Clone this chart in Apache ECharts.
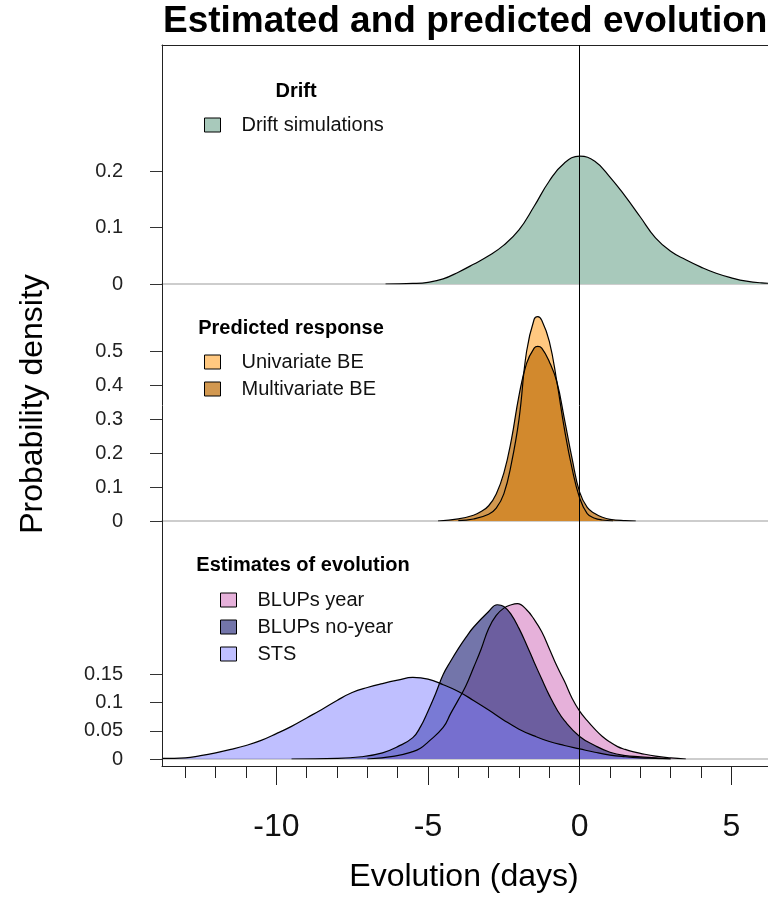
<!DOCTYPE html>
<html>
<head>
<meta charset="utf-8">
<title>Estimated and predicted evolution</title>
<script src="https://cdn.jsdelivr.net/npm/echarts@6/dist/echarts.min.js"></script>
<style>
  html, body { margin: 0; padding: 0; background: #fff; }
  #chart { width: 768px; height: 920px; }
</style>
</head>
<body>
<div id="chart"></div>
<script>
// density curves: [evolution (days), probability density]
var driftSim = [
  [-6.4, 0], [-5.5, 0.001], [-5, 0.003], [-4.5, 0.009], [-4, 0.021], [-3.5, 0.035],
  [-3, 0.05], [-2.5, 0.069], [-2, 0.096], [-1.5, 0.138], [-1, 0.183], [-0.5, 0.215],
  [0, 0.227], [0.5, 0.218], [1, 0.19], [1.5, 0.156], [2, 0.119], [2.5, 0.082],
  [3, 0.058], [3.5, 0.043], [4, 0.03], [4.5, 0.019], [5, 0.011], [5.5, 0.005],
  [6, 0.002], [6.5, 0.001]
]
var univariateBE = [
  [-4, 0.001], [-3.5, 0.006], [-3, 0.02], [-2.75, 0.038], [-2.5, 0.08], [-2.25, 0.17],
  [-2, 0.3], [-1.75, 0.5], [-1.5, 0.595], [-1.38, 0.603], [-1.25, 0.592], [-1, 0.53],
  [-0.75, 0.41], [-0.5, 0.27], [-0.25, 0.155], [0, 0.068], [0.25, 0.022], [0.5, 0.008],
  [0.75, 0.003], [1.1, 0]
]
var multivariateBE = [
  [-4.67, 0], [-4, 0.006], [-3.5, 0.017], [-3.25, 0.028], [-3, 0.045], [-2.75, 0.08],
  [-2.5, 0.141], [-2.25, 0.24], [-2, 0.37], [-1.75, 0.465], [-1.5, 0.51], [-1.38, 0.515],
  [-1.25, 0.51], [-1, 0.47], [-0.75, 0.41], [-0.5, 0.3], [-0.25, 0.185], [0, 0.085],
  [0.25, 0.04], [0.5, 0.022], [0.75, 0.011], [1, 0.005], [1.5, 0.001], [1.85, 0]
]
var blupsYear = [
  [-7, 0], [-6.1, 0.005], [-5.5, 0.013], [-5.25, 0.019], [-5, 0.03], [-4.5, 0.056],
  [-4.25, 0.081], [-4, 0.105], [-3.75, 0.13], [-3.5, 0.162], [-3.25, 0.195], [-3, 0.232],
  [-2.75, 0.255], [-2.5, 0.268], [-2.25, 0.274], [-2.05, 0.276], [-1.75, 0.265],
  [-1.5, 0.248], [-1.25, 0.226], [-1, 0.196], [-0.75, 0.165], [-0.5, 0.138],
  [-0.25, 0.108], [0, 0.085], [0.25, 0.068], [0.5, 0.053], [0.75, 0.04], [1, 0.03],
  [1.25, 0.022], [1.5, 0.017], [1.75, 0.013], [2, 0.01], [2.5, 0.005], [3, 0.002], [3.5, 0]
]
var blupsNoYear = [
  [-9.5, 0], [-8, 0.001], [-7.2, 0.004], [-6.5, 0.011], [-6, 0.022], [-5.5, 0.038],
  [-5.25, 0.057], [-5, 0.085], [-4.75, 0.116], [-4.5, 0.15], [-4.25, 0.174], [-4, 0.196],
  [-3.75, 0.216], [-3.5, 0.234], [-3, 0.262], [-2.72, 0.274], [-2.5, 0.271], [-2.25, 0.256],
  [-2, 0.232], [-1.75, 0.203], [-1.5, 0.172], [-1.25, 0.142], [-1, 0.113], [-0.75, 0.088],
  [-0.5, 0.068], [0, 0.04], [0.5, 0.024], [1, 0.012], [1.5, 0.006], [2, 0.004],
  [2.5, 0.002], [3, 0]
]
var sts = [
  [-13.77, 0.001], [-13, 0.002], [-12.5, 0.006], [-12, 0.011], [-11.5, 0.017], [-11, 0.024],
  [-10.5, 0.033], [-10, 0.045], [-9.5, 0.058], [-9, 0.073], [-8.5, 0.088], [-8, 0.104],
  [-7.5, 0.118], [-7, 0.127], [-6.5, 0.134], [-6, 0.14], [-5.5, 0.145], [-5, 0.142],
  [-4.5, 0.132], [-4, 0.12], [-3.5, 0.104], [-3, 0.087], [-2.5, 0.069], [-2, 0.053],
  [-1.5, 0.041], [-1, 0.031], [-0.5, 0.024], [0, 0.018], [0.5, 0.012], [1, 0.007],
  [1.5, 0.004], [2, 0.002], [2.5, 0.001], [3, 0]
]

var xMajorTicks = [-10, -5, 0, 5]
var xMinorTicks = [-13, -12, -11, -10, -9, -8, -7, -6, -5, -4, -3, -2, -1, 0, 1, 2, 3, 4, 5]
var yTicksDrift = [0, 0.1, 0.2]
var yTicksResponse = [0, 0.1, 0.2, 0.3, 0.4, 0.5]
var yTicksEstimates = [0, 0.05, 0.1, 0.15]
var zeroLine = 0

var FONT = '"Liberation Sans", Arial, sans-serif'
// the plot box is cut off at the right edge of the picture
var xMin = -13.77
var xMax = 6.21

var chart = echarts.init(document.getElementById('chart'))

function frameX (position, ticks, tickLen, showLine, labels) {
  return {
    type: 'value',
    gridIndex: 0,
    position: position,
    min: xMin,
    max: xMax,
    axisLine: { show: showLine, onZero: false, lineStyle: { color: '#222', width: 1 } },
    axisTick: { show: !!ticks, customValues: ticks || [], length: tickLen, lineStyle: { color: '#222' } },
    axisLabel: labels
      ? { customValues: labels, margin: 45, fontSize: 32, color: '#111', fontFamily: FONT }
      : { show: false },
    splitLine: { show: false }
  }
}

function panelX (grid) {
  return {
    type: 'value',
    gridIndex: grid,
    min: xMin,
    max: xMax,
    axisLine: { show: true, onZero: false, lineStyle: { color: '#bdbdbd', width: 1.5 } },
    axisTick: { show: false },
    axisLabel: { show: false },
    splitLine: { show: false }
  }
}

function panelY (grid, max, ticks) {
  return {
    type: 'value',
    gridIndex: grid,
    position: 'left',
    min: 0,
    max: max,
    axisLine: { show: false, onZero: false },
    axisTick: { show: true, length: 12, customValues: ticks, lineStyle: { color: '#333' } },
    axisLabel: { customValues: ticks, margin: 39, fontSize: 20, color: '#222', fontFamily: FONT },
    splitLine: { show: false }
  }
}

function densitySeries (name, data, fill, panel) {
  return {
    name: name,
    type: 'line',
    data: data,
    xAxisIndex: panel + 3,
    yAxisIndex: panel + 1,
    smooth: 0.45,
    symbol: 'none',
    showSymbol: false,
    silent: true,
    itemStyle: { color: fill },
    lineStyle: { color: '#000', width: 1.2 },
    areaStyle: { color: fill, opacity: 1 }
  }
}

function legendBox (left, top, names) {
  return {
    left: left,
    top: top,
    orient: 'vertical',
    padding: 0,
    itemGap: 7,
    itemWidth: 16,
    itemHeight: 14,
    icon: 'rect',
    selectedMode: false,
    itemStyle: { borderColor: '#000', borderWidth: 1 },
    textStyle: { fontSize: 20, color: '#111', fontFamily: FONT, padding: [0, 0, 0, 16] },
    data: names
  }
}

function label (x, y, text, size, bold, align) {
  return {
    type: 'text',
    x: x,
    y: y,
    style: {
      text: text,
      font: (bold ? 'bold ' : '') + size + 'px ' + FONT,
      fill: '#000',
      align: align || 'left',
      verticalAlign: 'middle'
    }
  }
}

chart.setOption({
  animation: false,
  backgroundColor: '#fff',
  grid: [
    { left: 162, top: 45, right: 0, height: 721 },
    { left: 162, top: 45, right: 0, height: 239 },
    { left: 162, top: 284, right: 0, height: 237 },
    { left: 162, top: 521, right: 0, height: 238 }
  ],
  xAxis: [
    frameX('bottom', xMinorTicks, 12, true, null),
    frameX('bottom', xMajorTicks, 19, false, xMajorTicks),
    frameX('top', null, 0, true, null),
    panelX(1),
    panelX(2),
    panelX(3)
  ],
  yAxis: [
    {
      type: 'value',
      gridIndex: 0,
      position: 'left',
      min: 0,
      max: 1,
      z: 10,
      axisLine: { show: true, onZero: false, lineStyle: { color: '#222', width: 1 } },
      axisTick: { show: false },
      axisLabel: { show: false },
      splitLine: { show: false }
    },
    panelY(1, 239 / 563, yTicksDrift),
    panelY(2, 237 / 339, yTicksResponse),
    panelY(3, 238 / 563, yTicksEstimates)
  ],
  legend: [
    legendBox(204, 115, ['Drift simulations']),
    legendBox(204, 352, ['Univariate BE', 'Multivariate BE']),
    legendBox(220, 590, ['BLUPs year', 'BLUPs no-year', 'STS'])
  ],
  graphic: [
    label(163, 22, 'Estimated and predicted evolution', 37, true),
    label(464, 877, 'Evolution (days)', 32, false, 'center'),
    {
      type: 'text',
      x: 33,
      y: 404,
      rotation: Math.PI / 2,
      style: { text: 'Probability density', font: '32px ' + FONT, fill: '#000', align: 'center', verticalAlign: 'middle' }
    },
    label(296, 91, 'Drift', 20, true, 'center'),
    label(291, 328, 'Predicted response', 20, true, 'center'),
    label(303, 565, 'Estimates of evolution', 20, true, 'center')
  ],
  series: [
    densitySeries('Drift simulations', driftSim, '#a8c9bb', 0),
    densitySeries('Univariate BE', univariateBE, '#ffc880', 1),
    densitySeries('Multivariate BE', multivariateBE, 'rgba(192,112,12,0.72)', 1),
    densitySeries('BLUPs year', blupsYear, '#e6b1da', 2),
    densitySeries('BLUPs no-year', blupsNoYear, 'rgba(56,59,134,0.7)', 2),
    densitySeries('STS', sts, 'rgba(128,128,255,0.5)', 2),
    {
      type: 'line',
      xAxisIndex: 0,
      yAxisIndex: 0,
      data: [],
      silent: true,
      z: 10,
      markLine: {
        silent: true,
        symbol: ['none', 'none'],
        label: { show: false },
        lineStyle: { color: '#000', width: 1, type: 'solid' },
        data: [{ xAxis: zeroLine }]
      }
    }
  ]
})
</script>
</body>
</html>
